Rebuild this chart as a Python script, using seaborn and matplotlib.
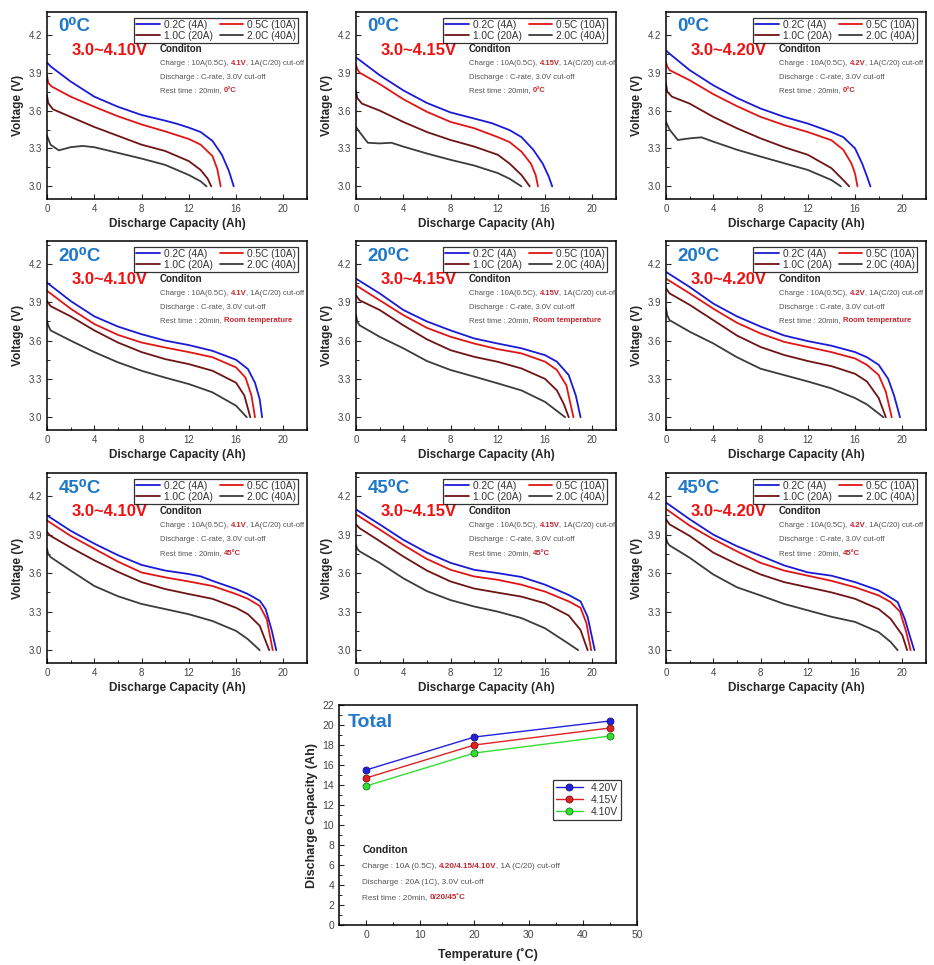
import numpy as np
import pandas as pd
import matplotlib
matplotlib.use("Agg")
import matplotlib.pyplot as plt
from matplotlib.ticker import MultipleLocator
import seaborn as sns

# discharge curves: rate -> (capacity Ah, voltage V)
RATES = ["0.2C (4A)", "0.5C (10A)", "1.0C (20A)", "2.0C (40A)"]
RATE_COLORS = ["#1a1ad6", "#e01515", "#6e1414", "#3c3c3c"]

P0_410 = {
    "0.2C (4A)": ([0, 0.3, 2, 4, 6, 8, 10, 11, 12, 13, 14, 14.8, 15.4, 15.8],
                  [3.98, 3.95, 3.83, 3.71, 3.63, 3.565, 3.52, 3.495, 3.465, 3.43, 3.36, 3.25, 3.12, 3.0]),
    "0.5C (10A)": ([0, 0.1, 0.4, 2, 4, 6, 8, 10, 12, 13, 14, 14.4, 14.7],
                   [3.88, 3.82, 3.79, 3.71, 3.63, 3.555, 3.49, 3.435, 3.375, 3.33, 3.24, 3.14, 3.0]),
    "1.0C (20A)": ([0, 0.1, 0.5, 2, 4, 6, 8, 10, 12, 13, 13.6, 13.9],
                   [3.72, 3.66, 3.61, 3.55, 3.47, 3.40, 3.33, 3.28, 3.20, 3.13, 3.06, 3.0]),
    "2.0C (40A)": ([0, 0.3, 1, 2, 3, 4, 6, 8, 10, 12, 13, 13.5],
                   [3.40, 3.33, 3.285, 3.31, 3.32, 3.31, 3.265, 3.22, 3.17, 3.09, 3.04, 3.0]),
}
P0_415 = {
    "0.2C (4A)": ([0, 0.3, 2, 4, 6, 8, 10, 11.5, 13, 14, 15, 15.8, 16.3, 16.6],
                  [4.02, 4.0, 3.88, 3.76, 3.66, 3.585, 3.537, 3.50, 3.445, 3.39, 3.29, 3.18, 3.08, 3.0]),
    "0.5C (10A)": ([0, 0.1, 0.3, 2, 4, 6, 8, 10, 12, 13, 14, 14.8, 15.2, 15.4],
                   [3.96, 3.93, 3.90, 3.81, 3.69, 3.59, 3.51, 3.46, 3.39, 3.35, 3.275, 3.18, 3.09, 3.0]),
    "1.0C (20A)": ([0, 0.1, 0.5, 2, 4, 6, 8, 10, 12, 13, 14, 14.7],
                   [3.76, 3.70, 3.655, 3.60, 3.51, 3.43, 3.367, 3.315, 3.25, 3.18, 3.09, 3.0]),
    "2.0C (40A)": ([0, 0.3, 1, 2, 3, 4, 6, 8, 10, 12, 13, 14],
                   [3.47, 3.43, 3.345, 3.34, 3.345, 3.315, 3.26, 3.21, 3.165, 3.105, 3.06, 3.0]),
}
P0_420 = {
    "0.2C (4A)": ([0, 0.3, 2, 4, 6, 8, 10, 12, 14, 15, 16, 16.6, 17, 17.3],
                  [4.075, 4.05, 3.92, 3.80, 3.70, 3.616, 3.55, 3.497, 3.43, 3.39, 3.30, 3.18, 3.08, 3.0]),
    "0.5C (10A)": ([0, 0.1, 0.3, 2, 4, 6, 8, 10, 12, 14, 15, 15.7, 16, 16.2],
                   [3.98, 3.95, 3.92, 3.84, 3.73, 3.635, 3.55, 3.485, 3.43, 3.365, 3.29, 3.18, 3.10, 3.0]),
    "1.0C (20A)": ([0, 0.1, 0.5, 2, 4, 6, 8, 10, 12, 14, 15, 15.5],
                   [3.81, 3.75, 3.71, 3.655, 3.55, 3.46, 3.38, 3.31, 3.25, 3.144, 3.05, 3.0]),
    "2.0C (40A)": ([0, 0.3, 1, 2, 3, 4, 6, 8, 10, 12, 14, 14.8],
                   [3.51, 3.45, 3.367, 3.38, 3.388, 3.354, 3.29, 3.236, 3.183, 3.13, 3.05, 3.0]),
}
P20_410 = {
    "0.2C (4A)": ([0, 2, 4, 6, 8, 10, 12, 14, 16, 17, 17.6, 18, 18.2],
                  [4.054, 3.91, 3.79, 3.71, 3.65, 3.60, 3.565, 3.52, 3.45, 3.377, 3.27, 3.14, 3.0]),
    "0.5C (10A)": ([0, 2, 4, 6, 8, 10, 12, 14, 16, 16.8, 17.3, 17.6],
                   [3.99, 3.85, 3.73, 3.645, 3.585, 3.546, 3.51, 3.47, 3.39, 3.31, 3.17, 3.0]),
    "1.0C (20A)": ([0, 0.3, 2, 4, 6, 8, 10, 12, 14, 16, 16.7, 17.2],
                   [3.91, 3.87, 3.79, 3.68, 3.585, 3.51, 3.455, 3.416, 3.364, 3.27, 3.17, 3.0]),
    "2.0C (40A)": ([0, 0.1, 0.3, 2, 4, 6, 8, 10, 12, 14, 16, 16.9],
                   [3.755, 3.72, 3.68, 3.60, 3.51, 3.43, 3.364, 3.31, 3.26, 3.195, 3.09, 3.0]),
}
P20_415 = {
    "0.2C (4A)": ([0, 2, 4, 6, 8, 10, 12, 14, 16, 17, 18, 18.6, 19],
                  [4.085, 3.97, 3.84, 3.75, 3.68, 3.617, 3.577, 3.54, 3.486, 3.435, 3.33, 3.17, 3.0]),
    "0.5C (10A)": ([0, 2, 4, 6, 8, 10, 12, 14, 16, 17, 17.8, 18.4],
                   [4.033, 3.916, 3.80, 3.70, 3.63, 3.577, 3.533, 3.50, 3.435, 3.37, 3.25, 3.0]),
    "1.0C (20A)": ([0, 0.3, 2, 4, 6, 8, 10, 12, 14, 16, 17, 17.6, 18],
                   [3.955, 3.916, 3.84, 3.72, 3.61, 3.525, 3.473, 3.434, 3.382, 3.30, 3.21, 3.10, 3.0]),
    "2.0C (40A)": ([0, 0.1, 0.3, 2, 4, 6, 8, 10, 12, 14, 16, 17.7],
                   [3.80, 3.75, 3.72, 3.63, 3.54, 3.44, 3.37, 3.318, 3.265, 3.21, 3.12, 3.0]),
}
P20_420 = {
    "0.2C (4A)": ([0, 2, 4, 6, 8, 10, 12, 14, 16, 17, 18, 18.8, 19.3, 19.8],
                  [4.138, 4.02, 3.89, 3.79, 3.71, 3.64, 3.596, 3.56, 3.51, 3.47, 3.41, 3.30, 3.17, 3.0]),
    "0.5C (10A)": ([0, 2, 4, 6, 8, 10, 12, 14, 16, 17, 18, 18.6, 19.1],
                   [4.085, 3.97, 3.85, 3.74, 3.656, 3.59, 3.55, 3.51, 3.46, 3.41, 3.33, 3.20, 3.0]),
    "1.0C (20A)": ([0, 0.3, 2, 4, 6, 8, 10, 12, 14, 16, 17, 18, 18.6],
                   [4.01, 3.97, 3.88, 3.76, 3.64, 3.55, 3.487, 3.44, 3.40, 3.34, 3.28, 3.15, 3.0]),
    "2.0C (40A)": ([0, 0.1, 0.3, 2, 4, 6, 8, 10, 12, 14, 16, 17, 18.4],
                   [3.85, 3.80, 3.76, 3.67, 3.578, 3.47, 3.38, 3.33, 3.28, 3.226, 3.15, 3.10, 3.0]),
}
P45_410 = {
    "0.2C (4A)": ([0, 2, 4, 6, 8, 10, 12, 13, 14, 16, 17, 18, 18.5, 19, 19.4],
                  [4.05, 3.93, 3.83, 3.74, 3.664, 3.62, 3.593, 3.575, 3.54, 3.476, 3.437, 3.385, 3.32, 3.16, 3.0]),
    "0.5C (10A)": ([0, 2, 4, 6, 8, 10, 12, 14, 16, 17, 18, 18.6, 19.1],
                   [4.01, 3.89, 3.79, 3.69, 3.605, 3.567, 3.535, 3.50, 3.437, 3.40, 3.345, 3.24, 3.0]),
    "1.0C (20A)": ([0, 0.3, 2, 4, 6, 8, 10, 12, 14, 16, 17, 18, 18.8],
                   [3.92, 3.89, 3.80, 3.70, 3.61, 3.53, 3.476, 3.437, 3.40, 3.33, 3.28, 3.19, 3.0]),
    "2.0C (40A)": ([0, 0.1, 0.3, 2, 4, 6, 8, 10, 12, 14, 16, 17, 18],
                   [3.79, 3.75, 3.725, 3.62, 3.50, 3.42, 3.36, 3.32, 3.28, 3.227, 3.15, 3.085, 3.0]),
}
P45_415 = {
    "0.2C (4A)": ([0, 2, 4, 6, 8, 10, 12, 14, 16, 18, 19, 19.6, 20.2],
                  [4.096, 3.98, 3.86, 3.76, 3.68, 3.626, 3.60, 3.57, 3.51, 3.43, 3.38, 3.26, 3.0]),
    "0.5C (10A)": ([0, 2, 4, 6, 8, 10, 12, 14, 16, 18, 19, 19.5, 19.9],
                   [4.057, 3.94, 3.82, 3.71, 3.626, 3.574, 3.548, 3.51, 3.456, 3.38, 3.33, 3.21, 3.0]),
    "1.0C (20A)": ([0, 0.3, 2, 4, 6, 8, 10, 12, 14, 16, 18, 19, 19.6],
                   [3.98, 3.95, 3.85, 3.73, 3.62, 3.535, 3.48, 3.448, 3.417, 3.365, 3.27, 3.157, 3.0]),
    "2.0C (40A)": ([0, 0.1, 0.3, 2, 4, 6, 8, 10, 12, 14, 16, 17, 18, 18.8],
                   [3.82, 3.79, 3.77, 3.68, 3.56, 3.46, 3.39, 3.34, 3.30, 3.25, 3.17, 3.11, 3.05, 3.0]),
}
P45_420 = {
    "0.2C (4A)": ([0, 2, 4, 6, 8, 10, 12, 14, 16, 18, 19, 19.6, 20.2, 20.6, 21],
                  [4.15, 4.02, 3.90, 3.81, 3.735, 3.66, 3.606, 3.58, 3.53, 3.465, 3.41, 3.375, 3.245, 3.12, 3.0]),
    "0.5C (10A)": ([0, 2, 4, 6, 8, 10, 12, 14, 16, 18, 19, 19.8, 20.3, 20.7],
                   [4.10, 3.97, 3.865, 3.77, 3.68, 3.62, 3.58, 3.54, 3.49, 3.426, 3.375, 3.30, 3.15, 3.0]),
    "1.0C (20A)": ([0, 0.3, 2, 4, 6, 8, 10, 12, 14, 16, 18, 19, 20, 20.4],
                   [4.02, 3.98, 3.89, 3.76, 3.67, 3.59, 3.53, 3.49, 3.45, 3.40, 3.32, 3.245, 3.116, 3.0]),
    "2.0C (40A)": ([0, 0.1, 0.3, 2, 4, 6, 8, 10, 12, 14, 16, 18, 19, 19.6],
                   [3.88, 3.84, 3.816, 3.72, 3.59, 3.49, 3.426, 3.36, 3.31, 3.26, 3.22, 3.14, 3.065, 3.0]),
}

PANELS = [[P0_410, P0_415, P0_420], [P20_410, P20_415, P20_420], [P45_410, P45_415, P45_420]]
ROW_TEMPS = ["0\u2070C", "20\u2070C", "45\u2070C"]
ROW_REST = ["0\u00b0C", "Room temperature", "45\u00b0C"]
COL_RANGES = ["3.0~4.10V", "3.0~4.15V", "3.0~4.20V"]
COL_CHARGE = ["4.1V", "4.15V", "4.2V"]

# total panel
TEMPS = [0, 20, 45]
CAP_420 = [15.5, 18.8, 20.4]
CAP_415 = [14.7, 18.0, 19.7]
CAP_410 = [13.9, 17.2, 18.9]

sns.set_style("ticks")
plt.rcParams["font.family"] = ["Liberation Sans", "DejaVu Sans"]
NARROW = ["Liberation Sans Narrow", "Liberation Sans", "DejaVu Sans"]
GREY = "#555555"
DRED = "#c4262e"
BLUE_T = "#1f78c8"


def rich_line(ax, x, y, parts, size):
    t = ax.text(x, y, parts[0][0], transform=ax.transAxes, color=parts[0][1],
                fontsize=size, fontweight=parts[0][2], va="bottom")
    for s, c, w in parts[1:]:
        t = ax.annotate(s, xycoords=t, xy=(1, 0), va="bottom", color=c,
                        fontsize=size, fontweight=w)
    return t


def style_axes(ax, lsize=7):
    for sp in ax.spines.values():
        sp.set_visible(True)
        sp.set_color("black")
        sp.set_linewidth(1.1)
    ax.tick_params(which="both", direction="in", labelsize=lsize, labelcolor="#444444",
                   top=False, right=False)
    ax.tick_params(which="major", length=3.5, width=0.8)
    ax.tick_params(which="minor", length=2, width=0.7)


fig = plt.figure(figsize=(9.34, 9.65), dpi=100)
W, H = 934, 965
col_left = [47, 356, 666]
rows_tb = [(12, 199), (241, 430), (473, 663)]

for r in range(3):
    for c in range(3):
        top, bot = rows_tb[r]
        ax = fig.add_axes([col_left[c] / W, 1 - bot / H, 260 / W, (bot - top) / H])
        data = PANELS[r][c]
        for rate, col in zip(RATES, RATE_COLORS):
            q, v = data[rate]
            df = pd.DataFrame({"q": q, "v": v})
            sns.lineplot(data=df, x="q", y="v", ax=ax, color=col, lw=1.3,
                         sort=False, estimator=None, label=rate)
        ax.set_xlim(0, 22)
        ax.set_ylim(2.9, 4.38)
        ax.xaxis.set_major_locator(MultipleLocator(4))
        ax.xaxis.set_minor_locator(MultipleLocator(2))
        ax.set_yticks([3.0, 3.3, 3.6, 3.9, 4.2])
        ax.yaxis.set_minor_locator(MultipleLocator(0.15))
        style_axes(ax)
        ax.set_xlabel("Discharge Capacity (Ah)", fontsize=8.5, fontweight="bold", labelpad=3)
        ax.set_ylabel("Voltage (V)", fontsize=8.5, fontweight="bold", labelpad=3)

        h, l = ax.get_legend_handles_labels()
        order = [0, 2, 1, 3]
        leg = ax.legend([h[i] for i in order], [l[i] for i in order], ncol=2,
                        loc="upper right", bbox_to_anchor=(0.985, 0.995), fontsize=7.3,
                        frameon=True, fancybox=False, edgecolor="black",
                        handlelength=2.3, handletextpad=0.4, columnspacing=0.7,
                        borderpad=0.2, labelspacing=0.05)
        leg.get_frame().set_linewidth(0.9)
        for t in leg.get_texts():
            t.set_color("#333333")

        ax.text(0.045, 0.92, ROW_TEMPS[r], transform=ax.transAxes, color=BLUE_T,
                fontsize=13.5, fontweight="bold", family=NARROW, va="center")
        ax.text(0.095, 0.795, COL_RANGES[c], transform=ax.transAxes, color="#ee1111",
                fontsize=12, fontweight="bold", family=NARROW, va="center")
        ax.text(0.435, 0.80, "Conditon", transform=ax.transAxes, fontsize=7,
                fontweight="bold", color="#222222", va="center")
        rich_line(ax, 0.435, 0.705, [("Charge : 10A(0.5C), ", GREY, "normal"),
                                     (COL_CHARGE[c], DRED, "bold"),
                                     (", 1A(C/20) cut-off", GREY, "normal")], 5.5)
        rich_line(ax, 0.435, 0.630, [("Discharge : C-rate, 3.0V cut-off", GREY, "normal")], 5.5)
        rich_line(ax, 0.435, 0.560, [("Rest time : 20min, ", GREY, "normal"),
                                     (ROW_REST[r], DRED, "bold")], 5.5)

# total panel
ax = fig.add_axes([339 / W, 1 - 925 / H, 298 / W, 220 / H])
tot = pd.DataFrame({
    "temp": TEMPS * 3,
    "cap": CAP_420 + CAP_415 + CAP_410,
    "set": ["4.20V"] * 3 + ["4.15V"] * 3 + ["4.10V"] * 3,
})
line_cols = {"4.20V": "#2222dd", "4.15V": "#dd2222", "4.10V": "#33dd33"}
edge_cols = {"4.20V": "#101080", "4.15V": "#801010", "4.10V": "#108010"}
for name in ["4.20V", "4.15V", "4.10V"]:
    sub = tot[tot["set"] == name]
    sns.lineplot(data=sub, x="temp", y="cap", ax=ax, color=line_cols[name], lw=1.0,
                 marker="o", markersize=5, markeredgecolor=edge_cols[name],
                 markeredgewidth=0.6, sort=False, estimator=None, label=name)
ax.set_xlim(-5, 50)
ax.set_ylim(0, 22)
ax.xaxis.set_major_locator(MultipleLocator(10))
ax.xaxis.set_minor_locator(MultipleLocator(5))
ax.yaxis.set_major_locator(MultipleLocator(2))
ax.yaxis.set_minor_locator(MultipleLocator(1))
style_axes(ax, 7.5)
ax.set_xlabel("Temperature (\u02daC)", fontsize=9, fontweight="bold", labelpad=6)
ax.set_ylabel("Discharge Capacity (Ah)", fontsize=9, fontweight="bold", labelpad=3)
leg = ax.legend(loc="upper right", bbox_to_anchor=(0.965, 0.685), fontsize=7.5,
                frameon=True, fancybox=False, edgecolor="black", handlelength=2.6,
                borderpad=0.3, labelspacing=0.2)
leg.get_frame().set_linewidth(0.9)
for t in leg.get_texts():
    t.set_color("#333333")
ax.text(0.03, 0.92, "Total", transform=ax.transAxes, color=BLUE_T, fontsize=14,
        fontweight="bold", family=NARROW, va="center")
ax.text(0.078, 0.34, "Conditon", transform=ax.transAxes, fontsize=7.5,
        fontweight="bold", color="#222222", va="center")
rich_line(ax, 0.078, 0.25, [("Charge : 10A (0.5C), ", GREY, "normal"),
                            ("4.20/4.15/4.10V", DRED, "bold"),
                            (", 1A (C/20) cut-off", GREY, "normal")], 5.9)
rich_line(ax, 0.078, 0.178, [("Discharge : 20A (1C), 3.0V cut-off", GREY, "normal")], 5.9)
rich_line(ax, 0.078, 0.108, [("Rest time : 20min, ", GREY, "normal"),
                             ("0/20/45\u02daC", DRED, "bold")], 5.9)

fig.savefig("out.png", dpi=100)
